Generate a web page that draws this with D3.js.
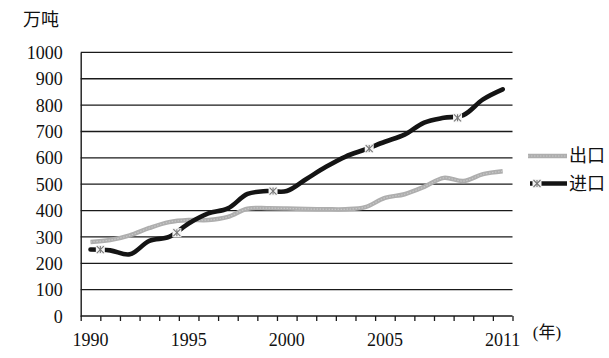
<!DOCTYPE html>
<html><head><meta charset="utf-8">
<script src="https://cdn.jsdelivr.net/npm/d3@7"></script>
<style>
html,body{margin:0;padding:0;background:#fff;}
svg{display:block;}
svg text{font-family:"Liberation Serif","Noto Sans CJK SC",serif !important;fill:#111;}
</style></head>
<body><svg id="c" width="609" height="358"></svg>
<script>
const years = [1990,1991,1992,1993,1994,1995,1996,1997,1998,1999,2000,2001,2002,2003,2004,2005,2006,2007,2008,2009,2010,2011];
const exportValues = [281,288,306,334,356,364,364,376,407,409,408,406,405,405,413,448,462,490,524,512,538,549];
const importValues = [252,249,234,285,300,351,389,408,463,474,474,520,566,605,632,661,688,734,752,762,822,860];
const markerYears = [1990.5,1994.4,1999.3,2004.2,2008.7];
const markerValues = [252,316,474,635,752];
const yTicks = [0,100,200,300,400,500,600,700,800,900,1000];
const xLabels = [1990,1995,2000,2005,2011];
const seriesNames = ["出口","进口"];
const unitLabel = "万吨";
const yearLabel = "(年)";

const svg = d3.select("#c");
const L = 80.7, R = 512.5, T = 52.4, B = 316;
const x = d3.scaleLinear().domain([1989.5, 2011.5]).range([L, R]);
const y = d3.scaleLinear().domain([0, 1000]).range([B, T]);
const FONT = '"Liberation Serif","Noto Sans CJK SC",serif';

// gridlines
svg.append("g").selectAll("line").data(yTicks.filter(d=>d>0)).join("line")
  .attr("x1", L).attr("x2", R).attr("y1", d=>y(d)).attr("y2", d=>y(d))
  .attr("stroke", "#1a1a1a").attr("stroke-width", 1.3);

// y axis
const yAxis = d3.axisLeft(y).tickValues(yTicks).tickSize(0).tickPadding(18).tickFormat(d3.format("d"));
const gy = svg.append("g").attr("transform", `translate(${L},0)`).call(yAxis)
  .attr("font-family", FONT).attr("font-size", 18);
gy.select(".domain").attr("stroke", "#1a1a1a").attr("stroke-width", 1.4);
gy.selectAll("text").attr("fill", "#111").attr("dy", "0.34em");

// x axis
const bounds = d3.range(1989.5, 2012, 1);
const xAxis = d3.axisBottom(x).tickValues(bounds).tickSize(5).tickFormat("");
const gx = svg.append("g").attr("transform", `translate(0,${B})`).call(xAxis);
gx.select(".domain").attr("stroke", "#1a1a1a").attr("stroke-width", 1.4).attr("d", `M${L},0H${R}`);
gx.selectAll(".tick line").attr("stroke", "#1a1a1a").attr("stroke-width", 1.3);

svg.append("g").attr("font-family", FONT).attr("font-size", 18)
  .selectAll("text").data(xLabels).join("text")
  .attr("x", d=>x(d)).attr("y", 346).attr("text-anchor", "middle").text(d=>d);

svg.append("text").attr("x", 547).attr("y", 338).attr("text-anchor", "middle")
  .attr("font-family", FONT).attr("font-size", 17).text(yearLabel);
svg.append("text").attr("x", 23).attr("y", 26).attr("font-family", FONT).attr("font-size", 18).text(unitLabel);

const line = d3.line().curve(d3.curveCatmullRom.alpha(0.5));

const expPts = years.map((yr,i)=>[x(yr), y(exportValues[i])]);
const impPts = years.map((yr,i)=>[x(yr), y(importValues[i])]);

svg.append("path").attr("d", line(expPts)).attr("fill","none")
  .attr("stroke","#aeaeae").attr("stroke-width",4.5).attr("stroke-linejoin","round");
svg.append("path").attr("d", line(expPts)).attr("fill","none")
  .attr("stroke","#c8c8c8").attr("stroke-width",1.2).attr("stroke-dasharray","1.5 1.5");
svg.append("path").attr("d", line(impPts)).attr("fill","none")
  .attr("stroke","#141414").attr("stroke-width",4.6).attr("stroke-linejoin","round").attr("stroke-linecap","round");

function marker(g, cx, cy) {
  const s = 4.5;
  g.append("rect").attr("x", cx-s).attr("y", cy-s).attr("width", 2*s).attr("height", 2*s).attr("fill", "#f4f4f4");
  const m = g.append("g").attr("stroke", "#777").attr("stroke-width", 1.1);
  m.append("line").attr("x1",cx-s+1).attr("y1",cy-s+1).attr("x2",cx+s-1).attr("y2",cy+s-1);
  m.append("line").attr("x1",cx-s+1).attr("y1",cy+s-1).attr("x2",cx+s-1).attr("y2",cy-s+1);
  m.append("line").attr("x1",cx).attr("y1",cy-s+1).attr("x2",cx).attr("y2",cy+s-1);
}
const mg = svg.append("g");
markerYears.forEach((yr,i)=>marker(mg, x(yr), y(markerValues[i])));

// legend
const lg = svg.append("g").attr("font-family", FONT).attr("font-size", 18);
lg.append("line").attr("x1",528).attr("x2",567).attr("y1",156).attr("y2",156)
  .attr("stroke","#aeaeae").attr("stroke-width",4.5);
lg.append("line").attr("x1",528).attr("x2",567).attr("y1",156).attr("y2",156)
  .attr("stroke","#c8c8c8").attr("stroke-width",1.2).attr("stroke-dasharray","1.5 1.5");
lg.append("text").attr("x",569).attr("y",162).text(seriesNames[0]);
lg.append("line").attr("x1",530).attr("x2",567).attr("y1",183.5).attr("y2",183.5)
  .attr("stroke","#141414").attr("stroke-width",4.6);
marker(lg, 537, 183.5);
lg.append("text").attr("x",569).attr("y",190).text(seriesNames[1]);
</script></body></html>
